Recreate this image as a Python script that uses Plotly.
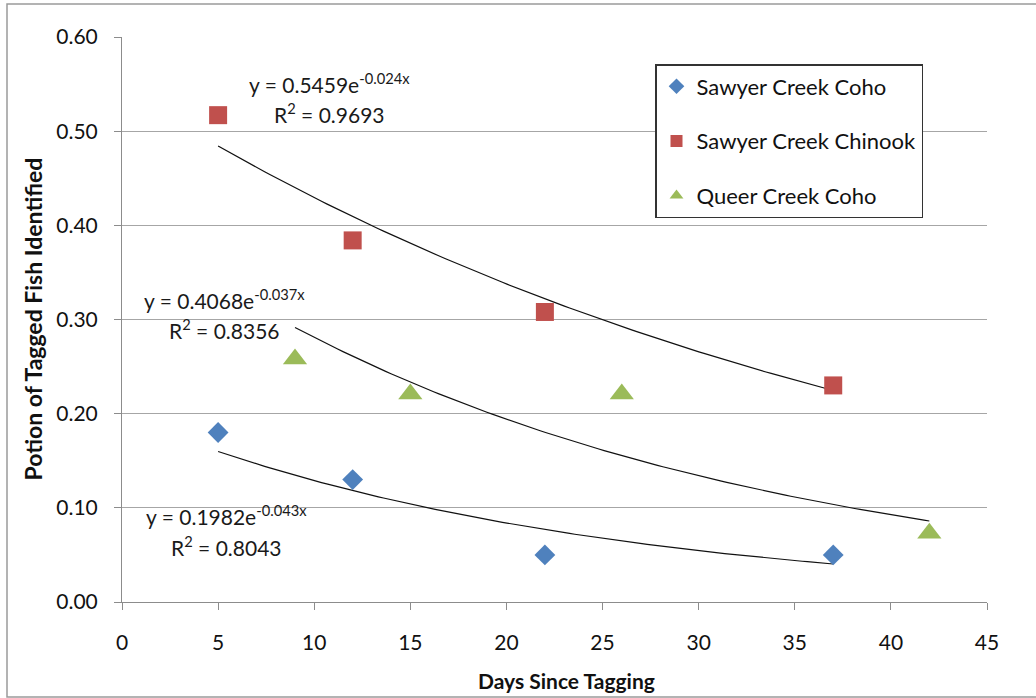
import numpy as np
import plotly.graph_objects as go

# Observations: days since tagging vs. proportion of tagged fish identified
sawyer_coho_days = [5, 12, 22, 37]
sawyer_coho_prop = [0.18, 0.13, 0.05, 0.05]

sawyer_chinook_days = [5, 12, 22, 37]
sawyer_chinook_prop = [0.517, 0.384, 0.308, 0.230]

queer_coho_days = [9, 15, 26, 42]
queer_coho_prop = [0.258, 0.221, 0.221, 0.073]

# Exponential trendline coefficients y = a * exp(b * x), with R^2
sawyer_coho_fit = (0.1982, -0.043, 0.8043)
sawyer_chinook_fit = (0.5459, -0.024, 0.9693)
queer_coho_fit = (0.4068, -0.037, 0.8356)

x_ticks = [0, 5, 10, 15, 20, 25, 30, 35, 40, 45]
y_ticks = [0.0, 0.1, 0.2, 0.3, 0.4, 0.5, 0.6]

BLUE = "#4F81BD"
RED = "#C0504D"
GREEN = "#9BBB59"
FONT = "Lato"
INK = "#111111"

fig = go.Figure()


def add_trend(days, fit):
    a, b, _ = fit
    xs = np.linspace(min(days), max(days), 120)
    fig.add_trace(go.Scatter(
        x=xs, y=a * np.exp(b * xs), mode="lines",
        line=dict(color="#111111", width=1.2),
        showlegend=False, hoverinfo="skip",
    ))


add_trend(sawyer_chinook_days, sawyer_chinook_fit)
add_trend(queer_coho_days, queer_coho_fit)
add_trend(sawyer_coho_days, sawyer_coho_fit)

series = [
    ("Sawyer Creek Coho", sawyer_coho_days, sawyer_coho_prop, "diamond", BLUE, 16),
    ("Sawyer Creek Chinook", sawyer_chinook_days, sawyer_chinook_prop, "square", RED, 18),
    ("Queer Creek Coho", queer_coho_days, queer_coho_prop, "triangle-up", GREEN, 21),
]
for name, xs, ys, sym, col, size in series:
    fig.add_trace(go.Scatter(
        x=xs, y=ys, mode="markers", name=name, legendgroup=name,
        marker=dict(symbol=sym, color=col, size=size, line=dict(width=0)),
    ))


def eq_label(fit, x, y):
    a, b, r2 = fit
    eq = f"y = {a:.4f}e<sup>{b:.3f}x</sup>"
    fig.add_annotation(x=x, y=y, xref="x", yref="y", text=eq, showarrow=False,
                       font=dict(family=FONT, size=21, color="#1a1a1a"),
                       xanchor="center", yanchor="middle")
    fig.add_annotation(x=x, y=y - 0.032, xref="x", yref="y",
                       text=f"R<sup>2</sup> = {r2:.4f}", showarrow=False,
                       font=dict(family=FONT, size=21, color="#1a1a1a"),
                       xanchor="center", yanchor="middle")


eq_label(sawyer_chinook_fit, 10.8, 0.551)
eq_label(queer_coho_fit, 5.35, 0.322)
eq_label(sawyer_coho_fit, 5.45, 0.092)

fig.update_xaxes(
    range=[0, 45], tickvals=x_ticks, ticks="outside", ticklen=7,
    tickcolor="#8c8c8c", showline=True, linecolor="#8c8c8c", linewidth=1,
    showgrid=False, zeroline=False, ticklabelstandoff=15,
    tickfont=dict(family=FONT, size=21, color=INK),
)
fig.update_yaxes(
    range=[0, 0.6], tickvals=y_ticks, tickformat=".2f", ticks="outside",
    ticklen=7, tickcolor="#8c8c8c", showline=True, linecolor="#8c8c8c",
    linewidth=1, showgrid=True, gridcolor="#a6a6a6", gridwidth=1,
    zeroline=False, ticklabelstandoff=12,
    tickfont=dict(family=FONT, size=21, color=INK),
)

# Axis titles
fig.add_annotation(x=(32 - 122) / 865, y=0.5, xref="paper", yref="paper",
                   text="<b>Potion of Tagged Fish Identified</b>", textangle=-90,
                   showarrow=False, font=dict(family=FONT, size=23, color=INK),
                   xanchor="center", yanchor="middle")
fig.add_annotation(x=(566 - 122) / 865, y=(602 - 680) / 565, xref="paper", yref="paper",
                   text="<b>Days Since Tagging</b>", showarrow=False,
                   font=dict(family=FONT, size=21, color=INK),
                   xanchor="center", yanchor="middle")

# Outer chart frame
fig.add_shape(type="rect", xref="paper", yref="paper",
              x0=(7 - 122) / 865, x1=(1045 - 122) / 865,
              y0=(602 - 697) / 565, y1=(602 - 4) / 565,
              line=dict(color="#9a9a9a", width=1.5), fillcolor="rgba(0,0,0,0)",
              layer="below")

fig.update_layout(
    width=1036, height=698,
    margin=dict(l=122, r=49, t=37, b=96),
    paper_bgcolor="white", plot_bgcolor="white",
    font=dict(family=FONT, color=INK),
    legend=dict(
        x=(655 - 122) / 865, y=(602 - 64) / 565, xanchor="left", yanchor="top",
        bgcolor="white", bordercolor="#333333", borderwidth=1.5,
        font=dict(family=FONT, size=22, color=INK),
        tracegroupgap=23, entrywidth=226, itemsizing="constant",
    ),
)

fig.write_html("out.html")
